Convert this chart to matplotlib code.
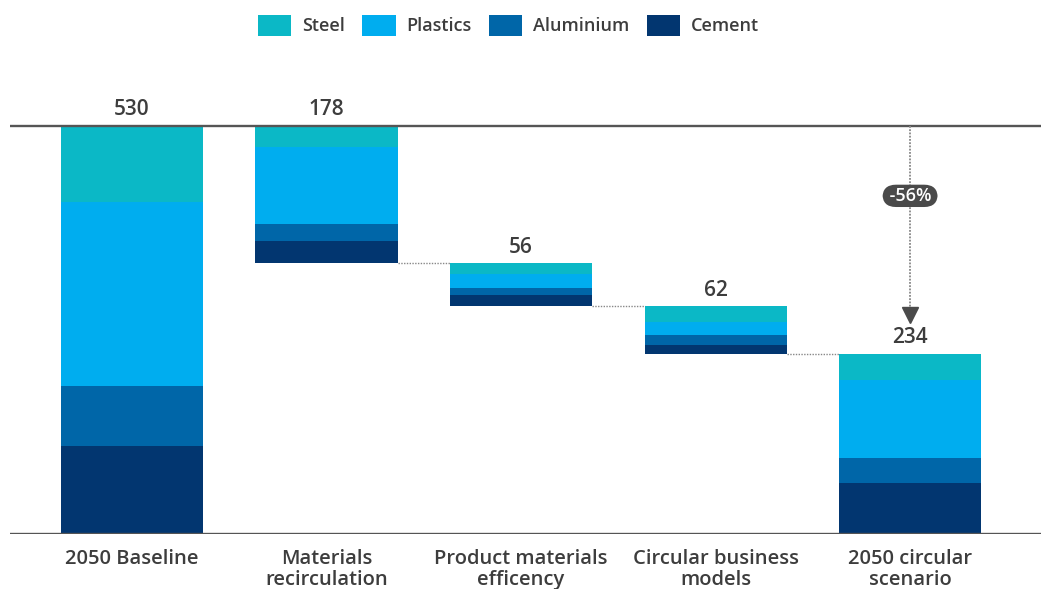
import matplotlib
matplotlib.use("Agg")
import matplotlib.pyplot as plt
import numpy as np

categories = ["2050 Baseline", "Materials\nrecirculation", "Product materials\nefficency",
              "Circular business\nmodels", "2050 circular\nscenario"]
series_names = ["Steel", "Plastics", "Aluminium", "Cement"]
steel = [99, 28, 14, 21, 34]
plastics = [238, 100, 19, 16, 101]
aluminium = [79, 21, 9, 13, 33]
cement = [114, 29, 14, 12, 66]
colors = {"Steel": "#0bb8c6", "Plastics": "#00adef", "Aluminium": "#0066a8", "Cement": "#023670"}

plt.rcParams['font.family'] = ['Open Sans', 'DejaVu Sans']
plt.rcParams['font.weight'] = 'semibold'
TXT = "#3d3d3d"
LINE = "#555555"

fig = plt.figure(figsize=(10.41, 5.89), dpi=100)
ax = fig.add_axes([10/1041, 1 - 534.3/589, 1 - 10/1041, (534.3 - 90)/589])

series = {"Steel": steel, "Plastics": plastics, "Aluminium": aluminium, "Cement": cement}
totals = [s + p + a + c for s, p, a, c in zip(steel, plastics, aluminium, cement)]
n = len(categories)
x = np.arange(n)
width = 0.73

bottoms = []
level = totals[0]
for i in range(n):
    if i == 0 or i == n - 1:
        bottoms.append(0)
    else:
        level = level - totals[i]
        bottoms.append(level)

stack_order = ["Cement", "Aluminium", "Plastics", "Steel"]
handles = {}
for i in range(n):
    b = bottoms[i]
    for name in stack_order:
        v = series[name][i]
        h = ax.bar(x[i], v, width, bottom=b, color=colors[name], linewidth=0, zorder=2)
        handles[name] = h
        b += v

for i in range(n):
    top = bottoms[i] + totals[i]
    ax.annotate(f"{totals[i]}", (x[i], top), xytext=(0, 7.5), textcoords="offset points",
                ha="center", va="baseline", fontsize=15, color=TXT, fontweight="semibold")

for i in range(1, n - 1):
    ax.plot([x[i] + width / 2, x[i + 1] - width / 2], [bottoms[i], bottoms[i]],
            ls=(0, (1, 1)), color="#888888", lw=1, zorder=1)

ax.axhline(totals[0], color=LINE, lw=1.7, zorder=3)
ax.axhline(0, color=LINE, lw=1.7, zorder=3)

final = totals[-1]
pct = (final - totals[0]) / totals[0] * 100
ax.plot([x[-1], x[-1]], [totals[0], final + 55], ls=(0, (1, 0.8)), color="#888888", lw=1.3, zorder=3)
ax.plot([x[-1]], [final + 50], marker="v", markersize=11, color="#4a4a4a", zorder=4, linestyle="none")
ax.text(x[-1], 439, f" {pct:.0f}% ", ha="center", va="center", fontsize=13, color="white", zorder=5,
        fontweight="semibold",
        bbox=dict(boxstyle="round,pad=0.12,rounding_size=0.75", fc="#4a4a4a", ec="none"))

ax.set_xlim(-0.627, 4.673)
ax.set_ylim(0, 576.3)
ax.set_xticks(x)
ax.set_xticklabels(categories, fontsize=14.5, color=TXT, linespacing=1.08, fontweight="semibold")
ax.tick_params(axis="x", length=0, pad=10.5)
ax.set_yticks([])
for s in ax.spines.values():
    s.set_visible(False)

leg = fig.legend([handles[nm] for nm in series_names], series_names, loc="center",
                 bbox_to_anchor=(0.4885, 0.957), ncol=4, frameon=False,
                 prop={"size": 13, "weight": "semibold"},
                 handlelength=1.85, handleheight=1.4, handletextpad=0.6, columnspacing=0.95)
for t in leg.get_texts():
    t.set_color(TXT)

fig.savefig("out.png", dpi=100)
